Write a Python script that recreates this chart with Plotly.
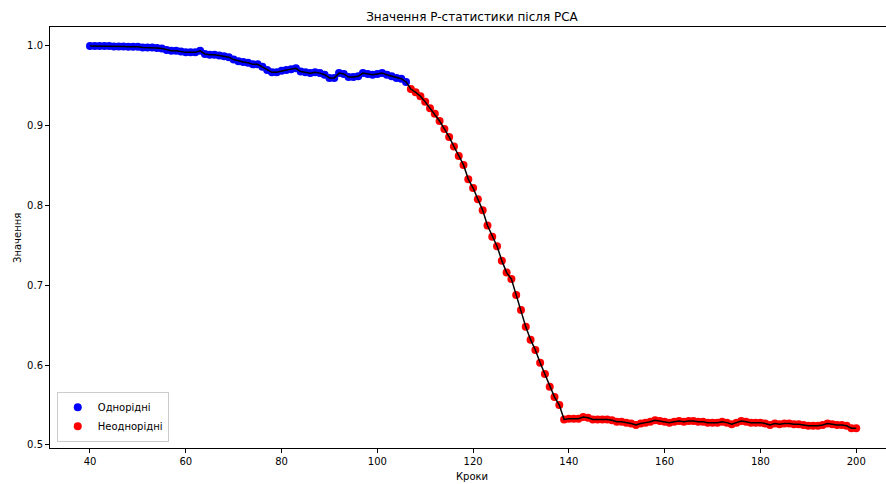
import plotly.graph_objects as go

steps_homog = list(range(40, 107))
p_homog = [1.000, 1.000, 1.000, 1.000, 1.000, 0.9995, 0.9995, 0.9995, 0.999, 0.999,
           0.999, 0.998, 0.998, 0.998, 0.9975, 0.997, 0.995, 0.994, 0.994, 0.993,
           0.992, 0.992, 0.992, 0.994, 0.990, 0.989, 0.989, 0.988, 0.987, 0.986,
           0.983, 0.981, 0.980, 0.979, 0.977, 0.977, 0.974, 0.970, 0.967, 0.967,
           0.969, 0.970, 0.971, 0.972, 0.968, 0.967, 0.966, 0.967, 0.966, 0.964,
           0.960, 0.960, 0.966, 0.965, 0.961, 0.961, 0.962, 0.966, 0.965, 0.964,
           0.965, 0.966, 0.964, 0.962, 0.960, 0.959, 0.955]

steps_heter = list(range(107, 201))
p_heter = [0.946, 0.942, 0.937, 0.930, 0.922, 0.915, 0.906, 0.896, 0.886, 0.874,
           0.862, 0.851, 0.833, 0.822, 0.808, 0.794, 0.775, 0.761, 0.749, 0.731,
           0.716, 0.708, 0.688, 0.669, 0.648, 0.632, 0.619, 0.603, 0.589, 0.573,
           0.560, 0.550, 0.532,
           0.533, 0.533, 0.533, 0.535, 0.534, 0.532, 0.532, 0.532, 0.532, 0.531,
           0.529, 0.529, 0.528, 0.527, 0.525, 0.527, 0.528, 0.529, 0.531, 0.530,
           0.529, 0.528, 0.529, 0.530, 0.529, 0.530, 0.530, 0.529, 0.529, 0.528,
           0.528, 0.528, 0.529, 0.528, 0.526, 0.528, 0.530, 0.529, 0.528, 0.528,
           0.528, 0.527, 0.525, 0.527, 0.526, 0.527, 0.527, 0.526, 0.526, 0.525,
           0.524, 0.524, 0.524, 0.525, 0.527, 0.526, 0.525, 0.525, 0.524, 0.521,
           0.521]

x_ticks = [40, 60, 80, 100, 120, 140, 160, 180, 200]
y_ticks = [0.5, 0.6, 0.7, 0.8, 0.9, 1.0]

all_steps = steps_homog + steps_heter
all_p = p_homog + p_heter

font = "DejaVu Sans"
W, H = 896, 484
ML, MR, MT, MB = 50, 1, 27, 36

fig = go.Figure()
fig.add_trace(go.Scatter(x=steps_homog, y=p_homog, mode="markers", name="Однорідні",
                         marker=dict(color="#0000ff", size=8, line=dict(width=0))))
fig.add_trace(go.Scatter(x=steps_heter, y=p_heter, mode="markers", name="Неоднорідні",
                         marker=dict(color="#ff0000", size=8, line=dict(width=0))))
fig.add_trace(go.Scatter(x=all_steps, y=all_p, mode="lines", showlegend=False,
                         line=dict(color="black", width=1.5)))

fig.update_layout(
    width=W, height=H,
    margin=dict(l=ML, r=MR, t=MT, b=MB, autoexpand=False),
    paper_bgcolor="white", plot_bgcolor="white",
    font=dict(family=font, size=10, color="black"),
    title=dict(text="Значення P-статистики після PCA", x=472 / W, xref="container",
               xanchor="center", y=1 - 17 / H, yanchor="middle",
               font=dict(family=font, size=12, color="black")),
    legend=dict(x=0.008, y=0.015, xanchor="left", yanchor="bottom",
                bordercolor="#cccccc", borderwidth=1, bgcolor="rgba(255,255,255,0.8)",
                font=dict(family=font, size=10), itemsizing="trace",
                tracegroupgap=0, itemwidth=30),
    showlegend=True,
    annotations=[
        dict(text="Кроки", xref="paper", yref="paper", x=(472 - ML) / (W - ML - MR),
             y=-(476 - (H - MB)) / (H - MT - MB), xanchor="center", yanchor="middle",
             showarrow=False, font=dict(family=font, size=10)),
        dict(text="Значення", xref="paper", yref="paper", x=-(ML - 17) / (W - ML - MR),
             y=(H - MB - 238) / (H - MT - MB), xanchor="center", yanchor="middle",
             textangle=-90, showarrow=False, font=dict(family=font, size=10)),
    ],
)
fig.update_xaxes(range=[31.65, 208.1], tickvals=x_ticks, showgrid=False, zeroline=False,
                 showline=True, linecolor="black", linewidth=1, mirror=True,
                 ticks="outside", ticklen=4, tickcolor="black", automargin=False)
fig.update_yaxes(range=[0.4962, 1.0238], tickvals=y_ticks, tickformat=".1f",
                 showgrid=False, zeroline=False,
                 showline=True, linecolor="black", linewidth=1, mirror=True,
                 ticks="outside", ticklen=4, tickcolor="black", automargin=False)

fig.write_html("out.html", config={"displayModeBar": False},
               post_script="document.body.style.margin='0';document.body.style.overflow='hidden';")
